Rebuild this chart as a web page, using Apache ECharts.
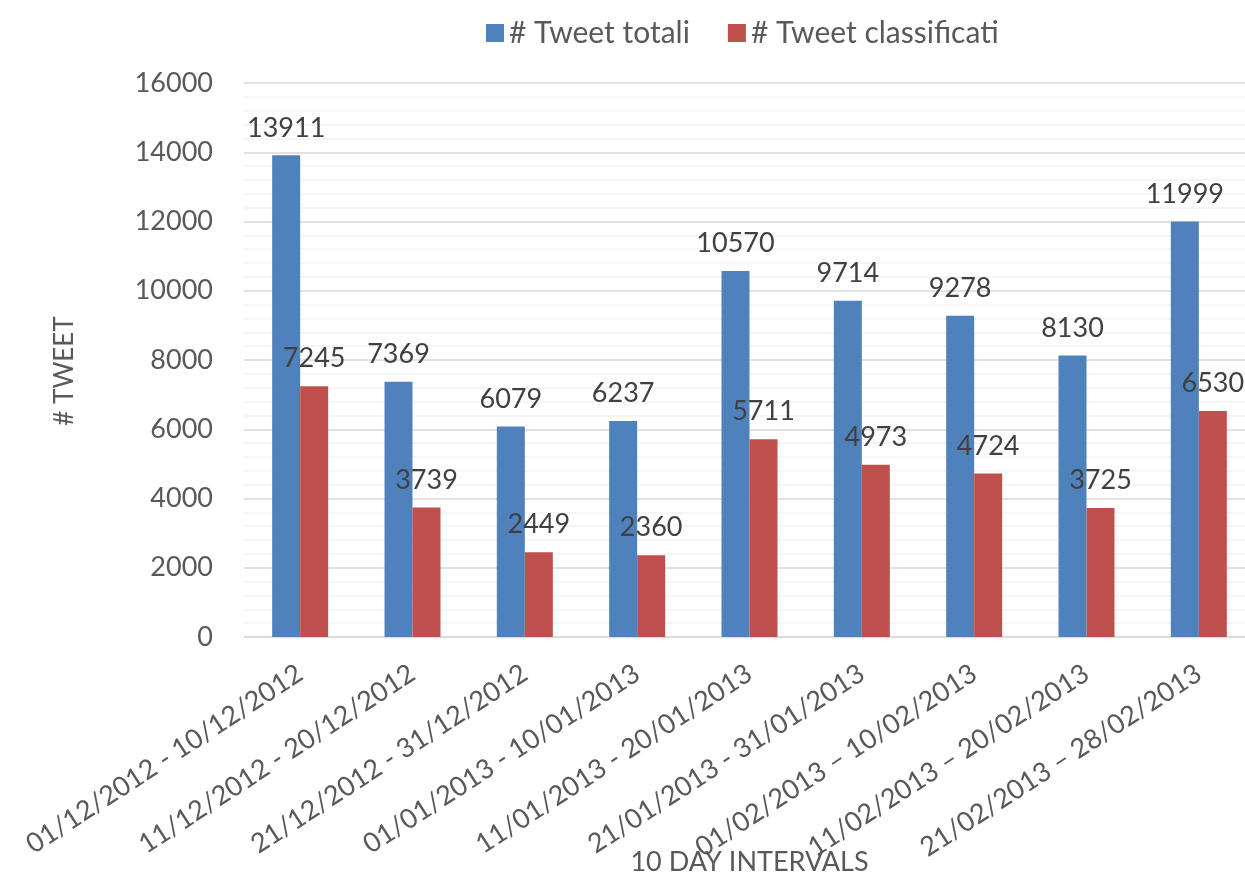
<!DOCTYPE html>
<html>
<head>
<meta charset="utf-8">
<script src="https://cdn.jsdelivr.net/npm/echarts@6/dist/echarts.min.js"></script>
<style>
  html, body { margin: 0; padding: 0; background: #fff; }
  #chart { width: 1245px; height: 879px; }
</style>
</head>
<body>
<div id="chart"></div>
<script>
// Ten-day intervals, December 2012 to February 2013
const categories = [
  '01/12/2012 - 10/12/2012',
  '11/12/2012 - 20/12/2012',
  '21/12/2012 - 31/12/2012',
  '01/01/2013 - 10/01/2013',
  '11/01/2013 - 20/01/2013',
  '21/01/2013 - 31/01/2013',
  '01/02/2013 \u2013 10/02/2013',
  '11/02/2013 \u2013 20/02/2013',
  '21/02/2013 \u2013 28/02/2013'
];
const tweetTotali = [13911, 7369, 6079, 6237, 10570, 9714, 9278, 8130, 11999];
const tweetClassificati = [7245, 3739, 2449, 2360, 5711, 4973, 4724, 3725, 6530];
const seriesNames = ['# Tweet totali', '# Tweet classificati'];

const FONT = 'Lato, "Open Sans", sans-serif';
const TEXT = '#595959';

const chart = echarts.init(document.getElementById('chart'), null, { renderer: 'canvas' });

const labelStyle = {
  show: true,
  position: 'top',
  distance: 14,
  color: '#404040',
  fontFamily: FONT,
  fontSize: 27
};

chart.setOption({
  animation: false,
  backgroundColor: '#ffffff',
  legend: {
    top: 13,
    left: 481,
    itemWidth: 18,
    itemHeight: 18,
    itemGap: 38,
    icon: 'rect',
    textStyle: { color: TEXT, fontFamily: FONT, fontSize: 30 },
    data: seriesNames
  },
  grid: {
    left: 244, right: -10, top: 83, bottom: 242,
    containLabel: false,
    outerBoundsMode: 'none'
  },
  xAxis: {
    type: 'category',
    data: categories,
    name: '10 DAY INTERVALS',
    nameLocation: 'middle',
    nameGap: 212,
    nameMoveOverlap: false,
    nameTextStyle: { color: TEXT, fontFamily: FONT, fontSize: 27 },
    axisLine: { show: true, lineStyle: { color: '#D9D9D9', width: 1.5 } },
    axisTick: { show: false },
    axisLabel: {
      interval: 0,
      rotate: 33,
      margin: 34,
      color: TEXT,
      fontFamily: FONT,
      fontSize: 27
    }
  },
  yAxis: {
    type: 'value',
    min: 0,
    max: 16000,
    interval: 2000,
    name: '# TWEET',
    nameLocation: 'middle',
    nameGap: 166,
    nameMoveOverlap: false,
    nameTextStyle: { color: TEXT, fontFamily: FONT, fontSize: 26, padding: [0, 22, 0, 0] },
    axisLine: { show: false },
    axisTick: { show: false },
    axisLabel: {
      color: TEXT,
      fontFamily: FONT,
      fontSize: 27,
      margin: 31,
      formatter: v => String(v)
    },
    splitLine: { show: true, lineStyle: { color: '#D9D9D9', width: 1.5 } },
    minorTick: { show: false, splitNumber: 5 },
    minorSplitLine: { show: true, lineStyle: { color: '#F2F2F2', width: 1.5 } }
  },
  series: [
    {
      name: seriesNames[0],
      type: 'bar',
      data: tweetTotali,
      barWidth: 28,
      barGap: '0%',
      itemStyle: { color: '#4F81BD' },
      label: labelStyle
    },
    {
      name: seriesNames[1],
      type: 'bar',
      data: tweetClassificati,
      barWidth: 28,
      barGap: '0%',
      itemStyle: { color: '#C0504D' },
      label: labelStyle
    }
  ]
});
</script>
</body>
</html>
